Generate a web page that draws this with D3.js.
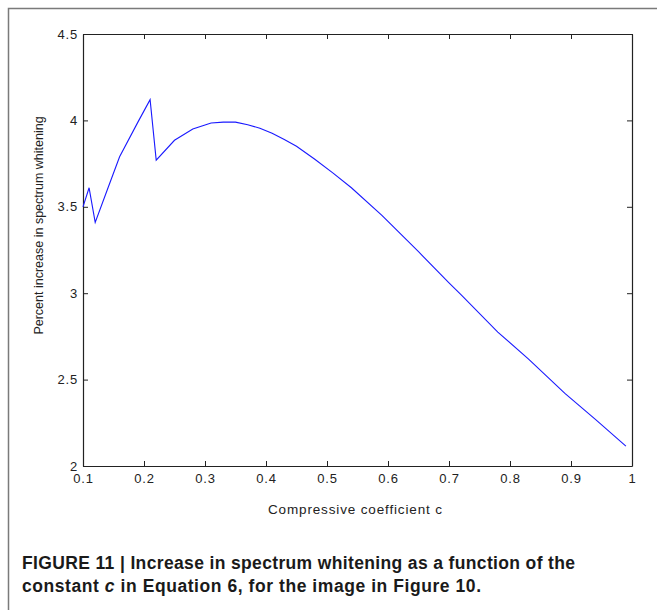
<!DOCTYPE html>
<html>
<head>
<meta charset="utf-8">
<script src="https://cdn.jsdelivr.net/npm/d3@7"></script>
<style>
  body { margin: 0; background: #fff; }
  svg { display: block; font-family: "Liberation Sans", Arial, Helvetica, sans-serif; }
</style>
</head>
<body>
<div id="chart"></div>
<script>
// Chart size
var chart_width  = 657;
var chart_height = 610;

// Data
var coefficient = [0.10, 0.11, 0.12, 0.14, 0.16, 0.19, 0.21, 0.22, 0.25, 0.28, 0.31, 0.33,
                   0.35, 0.37, 0.39, 0.41, 0.43, 0.45, 0.48, 0.51, 0.54, 0.59, 0.65, 0.70,
                   0.72, 0.78, 0.83, 0.89, 0.94, 0.99];
var whitening   = [3.50, 3.61, 3.41, 3.60, 3.79, 3.99, 4.12, 3.77, 3.885, 3.95, 3.985, 3.99,
                   3.99, 3.975, 3.955, 3.925, 3.89, 3.85, 3.775, 3.695, 3.61, 3.45, 3.24, 3.06,
                   2.99, 2.775, 2.62, 2.42, 2.27, 2.115];
var x_ticks = [0.1, 0.2, 0.3, 0.4, 0.5, 0.6, 0.7, 0.8, 0.9, 1];
var y_ticks = [2, 2.5, 3, 3.5, 4, 4.5];

var x_title = 'Compressive coefficient c';
var y_title = 'Percent increase in spectrum whitening';
var caption_1 = 'FIGURE 11 | Increase in spectrum whitening as a function of the';

// Plot area
var plot_left = 83, plot_right = 632, plot_top = 34, plot_bottom = 466;

var x = d3.scaleLinear().domain([0.1, 1]).range([plot_left, plot_right]);
var y = d3.scaleLinear().domain([2, 4.5]).range([plot_bottom, plot_top]);

var svg = d3.select('#chart')
    .append('svg')
    .attr('width', chart_width)
    .attr('height', chart_height);

// page frame (left and top edges)
svg.append('path')
    .attr('d', 'M8.5,' + chart_height + 'V8.5H' + chart_width)
    .attr('fill', 'none')
    .attr('stroke', '#7a7a7a')
    .attr('stroke-width', 1.5);

// MATLAB style box with inward ticks
function style_axis(g) {
    g.select('.domain').attr('stroke', '#222').attr('stroke-width', 1.2);
    g.selectAll('.tick line').attr('stroke', '#222');
    g.selectAll('.tick text')
        .attr('fill', '#222')
        .attr('font-size', 13)
        .attr('letter-spacing', 0.8);
}

var fmt = function(d) { return String(d); };

svg.append('g')
    .attr('transform', 'translate(0,' + plot_bottom + ')')
    .call(d3.axisBottom(x).tickValues(x_ticks).tickFormat(fmt).tickSizeInner(-5).tickSizeOuter(0).tickPadding(8))
    .call(style_axis);

svg.append('g')
    .attr('transform', 'translate(0,' + plot_top + ')')
    .call(d3.axisTop(x).tickValues(x_ticks).tickFormat('').tickSizeInner(-5).tickSizeOuter(0))
    .call(style_axis);

svg.append('g')
    .attr('transform', 'translate(' + plot_left + ',0)')
    .call(d3.axisLeft(y).tickValues(y_ticks).tickFormat(fmt).tickSizeInner(-5).tickSizeOuter(0).tickPadding(5))
    .call(style_axis);

svg.append('g')
    .attr('transform', 'translate(' + plot_right + ',0)')
    .call(d3.axisRight(y).tickValues(y_ticks).tickFormat('').tickSizeInner(-5).tickSizeOuter(0))
    .call(style_axis);

// the curve
var line = d3.line()
    .x(function(d, i) { return x(coefficient[i]); })
    .y(function(d) { return y(d); });

svg.append('path')
    .datum(whitening)
    .attr('d', line)
    .attr('fill', 'none')
    .attr('stroke', '#1a1aff')
    .attr('stroke-width', 1.1);

// axis titles
svg.append('text')
    .attr('x', 268)
    .attr('y', 514)
    .attr('font-size', 13.5)
    .attr('fill', '#222')
    .attr('textLength', 174)
    .attr('lengthAdjust', 'spacing')
    .text(x_title);

svg.append('text')
    .attr('transform', 'translate(43,225.5) rotate(-90)')
    .attr('text-anchor', 'middle')
    .attr('font-size', 12.5)
    .attr('fill', '#222')
    .text(y_title);

// caption
var caption = svg.append('g')
    .attr('font-weight', 'bold')
    .attr('font-size', 17.5)
    .attr('fill', '#1a1a1a');

caption.append('text')
    .attr('x', 22)
    .attr('y', 569)
    .attr('textLength', 553)
    .attr('lengthAdjust', 'spacing')
    .text(caption_1);

var cap2 = caption.append('text')
    .attr('x', 22)
    .attr('y', 592)
    .attr('textLength', 459)
    .attr('lengthAdjust', 'spacing');
cap2.append('tspan').text('constant ');
cap2.append('tspan').attr('font-style', 'italic').text('c');
cap2.append('tspan').text(' in Equation 6, for the image in Figure 10.');
</script>
</body>
</html>
